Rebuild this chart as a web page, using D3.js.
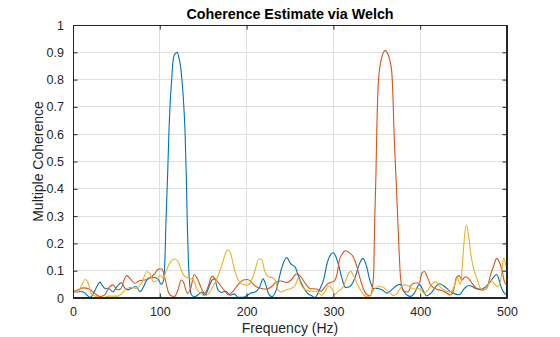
<!DOCTYPE html>
<html>
<head>
<meta charset="utf-8">
<script src="https://cdn.jsdelivr.net/npm/d3@7"></script>
<style>
  html, body { margin: 0; padding: 0; background: #fff; }
  svg { display: block; font-family: "Liberation Sans", Arial, Helvetica, sans-serif; }
</style>
</head>
<body>
<svg id="chart" width="560" height="337"></svg>
<script>
// ---------- data ----------
const chartTitle = "Coherence Estimate via Welch";
const xLabel = "Frequency (Hz)";
const yLabel = "Multiple Coherence";
const xTicks = [0, 100, 200, 300, 400, 500];
const yTicks = [0, 0.1, 0.2, 0.3, 0.4, 0.5, 0.6, 0.7, 0.8, 0.9, 1];
const seriesNames = ["Series 1", "Series 2", "Series 3"];
const seriesColors = ["#0072BD", "#D95319", "#EDB120"];

// [frequency (Hz), coherence]
const series1 = [[0,.025],[4,.022],[8,.024],[13,.02],[17,.008],[20,.003],[24,.02],[28,.045],[31,.058],[34,.045],[37,.035],[42,.033],[46,.022],[50,.04],[53,.05],[56,.056],[59,.04],[62,.03],[66,.033],[70,.04],[73,.042],[77,.023],[81,.04],[84,.06],[87,.072],[91,.075],[95,.074],[98,.068],[102,.05],[104,.06],[106,.15],[107,.27],[109,.45],[110.6,.615],[112,.72],[113.7,.8],[115,.86],[116.7,.89],[118,.895],[120,.9],[122,.88],[124,.847],[126,.78],[127,.737],[129,.615],[130.5,.45],[131.7,.27],[133,.13],[134.5,.05],[136.5,.012],[140,.004],[144,.012],[148,.022],[152,.01],[156,.035],[160,.065],[163,.07],[167,.03],[171,.02],[176,.025],[181,.01],[186,.015],[190,.003],[196,.003],[200,.008],[205,.018],[210,.022],[215,.04],[219,.07],[222,.05],[225,.017],[229,.004],[234,.028],[240,.105],[246,.148],[251,.125],[256,.113],[260,.078],[265,.042],[270,.018],[275,.008],[278.8,.002],[284,.03],[289,.07],[293,.13],[297,.16],[300,.166],[303,.15],[306,.12],[310,.07],[314,.038],[319,.042],[325,.075],[330,.125],[334,.145],[338,.118],[342,.065],[346,.035],[351,.035],[356,.03],[362,.018],[367,.03],[373,.046],[377,.05],[380,.03],[385,.01],[389,.006],[394,.022],[399,.05],[403,.03],[407,.008],[413,.02],[418,.042],[422,.052],[427,.045],[433,.028],[439,.016],[445,.012],[451,.035],[456,.046],[460,.042],[464,.035],[470,.032],[475,.04],[481,.06],[486,.082],[488,.086],[490,.075],[493,.042],[497,.018],[500,.012]];

const series2 = [[0,.02],[6,.03],[12,.037],[19,.032],[25,.017],[31,.005],[36,.01],[42,.04],[46,.048],[51,.03],[55,.034],[60,.075],[62,.082],[66,.07],[71,.054],[77,.064],[83,.066],[88,.072],[94,.088],[98,.105],[102,.107],[106,.072],[109.5,.025],[113,.008],[117,.006],[121,.03],[124.5,.066],[127,.06],[132,.017],[136,.04],[139.5,.086],[144,.066],[148,.035],[152,.017],[156,.045],[160,.08],[165,.066],[170,.045],[175,.025],[179,.012],[184,.023],[190,.048],[196,.066],[201,.068],[205,.06],[211,.041],[217,.035],[223,.033],[229,.042],[234,.058],[240,.062],[246,.057],[251,.065],[256,.085],[258,.088],[262,.08],[267,.056],[273,.035],[280,.033],[286,.025],[290,.04],[295,.055],[300,.06],[304,.085],[307,.14],[310,.16],[313.5,.173],[318,.167],[323,.15],[327,.115],[331,.068],[335,.03],[339,.011],[342.5,.008],[345,.04],[346.5,.1],[347.5,.27],[349,.45],[350,.615],[352,.8],[355.6,.88],[359.4,.906],[363.3,.89],[365,.87],[367.2,.83],[369,.7],[369.8,.615],[372,.45],[374.4,.27],[376,.15],[377.1,.084],[379,.04],[381,.026],[386,.022],[390,.05],[395,.055],[399,.055],[402,.092],[405,.097],[408,.078],[412,.048],[418,.033],[424,.028],[429,.021],[435,.011],[439,.035],[441.6,.075],[444.7,.082],[448,.066],[452,.078],[456,.07],[460,.053],[466,.033],[472,.029],[477,.038],[481,.084],[485,.121],[488,.145],[491,.133],[494,.105],[497,.06],[500,.047]];

const series3 = [[0,.03],[6,.023],[10,.047],[14,.068],[17.6,.054],[21,.017],[27,.005],[35,.0],[41,.007],[47,.007],[52,.007],[58,.023],[62,.035],[67.6,.039],[73,.035],[79,.054],[85,.096],[88.7,.09],[92.5,.06],[96,.062],[100,.084],[104,.072],[108,.105],[113,.135],[117,.143],[121,.133],[125,.1],[129,.078],[134,.073],[138.5,.066],[142.5,.035],[147,.017],[152,.008],[156,.015],[160,.035],[165,.066],[171,.115],[175,.157],[178,.176],[181.5,.165],[184.3,.127],[188,.084],[192,.058],[197.7,.048],[201,.047],[205,.06],[209.6,.1],[214,.143],[217,.142],[221,.098],[225,.078],[229,.075],[232.7,.066],[236.5,.028],[240,.022],[246,.03],[251,.035],[255.8,.045],[259.6,.072],[263.4,.045],[269,.028],[275,.025],[281,.024],[286.5,.01],[290.3,.022],[294.2,.044],[298,.035],[302,.014],[306,.027],[310,.035],[313.7,.06],[317.5,.09],[320,.098],[323.4,.08],[327.2,.054],[331,.03],[335,.011],[338.7,.004],[342,.008],[346.4,.029],[350.3,.041],[356,.041],[361.7,.029],[365.6,.017],[369.4,.009],[373,.015],[377,.035],[381,.048],[386,.046],[390.6,.035],[395,.033],[398.5,.035],[402,.025],[404.4,.017],[409,.03],[413.9,.053],[417.8,.059],[421.7,.045],[427.4,.029],[433.2,.021],[437,.029],[440.9,.059],[442.8,.075],[444.7,.059],[446.6,.05],[448.6,.121],[451.2,.231],[453.1,.267],[455.5,.236],[458.2,.163],[462,.102],[465.9,.066],[469.7,.035],[473.6,.029],[477.5,.041],[481.3,.066],[485.2,.053],[489,.041],[492.9,.066],[496,.145],[498,.13],[500,.103]];

const allSeries = [series1, series2, series3];

// ---------- layout ----------
const svg = d3.select("#chart");
const plot = { left: 73, right: 507, top: 25, bottom: 298 };
const axisColor = "#262626";
const gridColor = "#dfdfdf";
const tickLen = 4.5;

const x = d3.scaleLinear().domain([0, 500]).range([plot.left, plot.right]);
const y = d3.scaleLinear().domain([0, 1]).range([plot.bottom, plot.top]);

svg.append("rect").attr("x", 0).attr("y", 0).attr("width", 560).attr("height", 337).attr("fill", "#fff");

// grid
const grid = svg.append("g");
grid.selectAll("line.gx").data(xTicks).join("line")
  .attr("x1", d => x(d)).attr("x2", d => x(d))
  .attr("y1", plot.top).attr("y2", plot.bottom)
  .attr("stroke", gridColor).attr("stroke-width", 1).attr("shape-rendering", "crispEdges");
grid.selectAll("line.gy").data(yTicks).join("line")
  .attr("y1", d => y(d)).attr("y2", d => y(d))
  .attr("x1", plot.left).attr("x2", plot.right)
  .attr("stroke", gridColor).attr("stroke-width", 1).attr("shape-rendering", "crispEdges");

// clip
svg.append("defs").append("clipPath").attr("id", "clip")
  .append("rect").attr("x", plot.left).attr("y", plot.top)
  .attr("width", plot.right - plot.left).attr("height", plot.bottom - plot.top);

const line = d3.line().x(d => x(d[0])).y(d => y(d[1])).curve(d3.curveMonotoneX);
const lines = svg.append("g").attr("clip-path", "url(#clip)");
allSeries.forEach((s, i) => {
  lines.append("path").datum(s)
    .attr("d", line)
    .attr("fill", "none")
    .attr("stroke", seriesColors[i])
    .attr("stroke-width", 1.1)
    .attr("stroke-linejoin", "round");
});

// axes (ticks inward, box)
const xAxisB = d3.axisBottom(x).tickValues(xTicks).tickSizeInner(-tickLen).tickSizeOuter(0).tickPadding(9).tickFormat(d3.format("d"));
const xAxisT = d3.axisTop(x).tickValues(xTicks).tickSizeInner(-tickLen).tickSizeOuter(0).tickFormat("");
const yAxisL = d3.axisLeft(y).tickValues(yTicks).tickSizeInner(-tickLen).tickSizeOuter(0).tickPadding(9).tickFormat(d => d3.format("~g")(d));
const yAxisR = d3.axisRight(y).tickValues(yTicks).tickSizeInner(-tickLen).tickSizeOuter(0).tickFormat("");

function styleAxis(g) {
  g.select(".domain").attr("stroke", axisColor);
  g.selectAll(".tick line").attr("stroke", axisColor);
  g.selectAll(".tick text").attr("fill", axisColor)
    .style("font-size", "12.5px")
    .style("font-family", '"Liberation Sans", Arial, Helvetica, sans-serif');
}
svg.append("g").attr("transform", `translate(0,${plot.bottom})`).call(xAxisB).call(styleAxis);
svg.append("g").attr("transform", `translate(0,${plot.top})`).call(xAxisT).call(styleAxis);
svg.append("g").attr("transform", `translate(${plot.left},0)`).call(yAxisL).call(styleAxis);
svg.append("g").attr("transform", `translate(${plot.right},0)`).call(yAxisR).call(styleAxis);

svg.append("rect")
  .attr("x", plot.left + 0.5).attr("y", plot.top + 0.5)
  .attr("width", plot.right - plot.left - 1).attr("height", plot.bottom - plot.top - 1)
  .attr("fill", "none").attr("stroke", axisColor).attr("stroke-width", 1);

// labels
svg.append("text")
  .attr("x", (plot.left + plot.right) / 2).attr("y", 19)
  .attr("text-anchor", "middle")
  .attr("fill", "#000")
  .style("font-size", "14.3px").style("font-weight", "bold")
  .text(chartTitle);

svg.append("text")
  .attr("x", (plot.left + plot.right) / 2).attr("y", 333)
  .attr("text-anchor", "middle")
  .attr("fill", axisColor)
  .style("font-size", "14px")
  .text(xLabel);

svg.append("text")
  .attr("transform", `translate(43,${(plot.top + plot.bottom) / 2}) rotate(-90)`)
  .attr("text-anchor", "middle")
  .attr("fill", axisColor)
  .style("font-size", "14px")
  .text(yLabel);
</script>
</body>
</html>
